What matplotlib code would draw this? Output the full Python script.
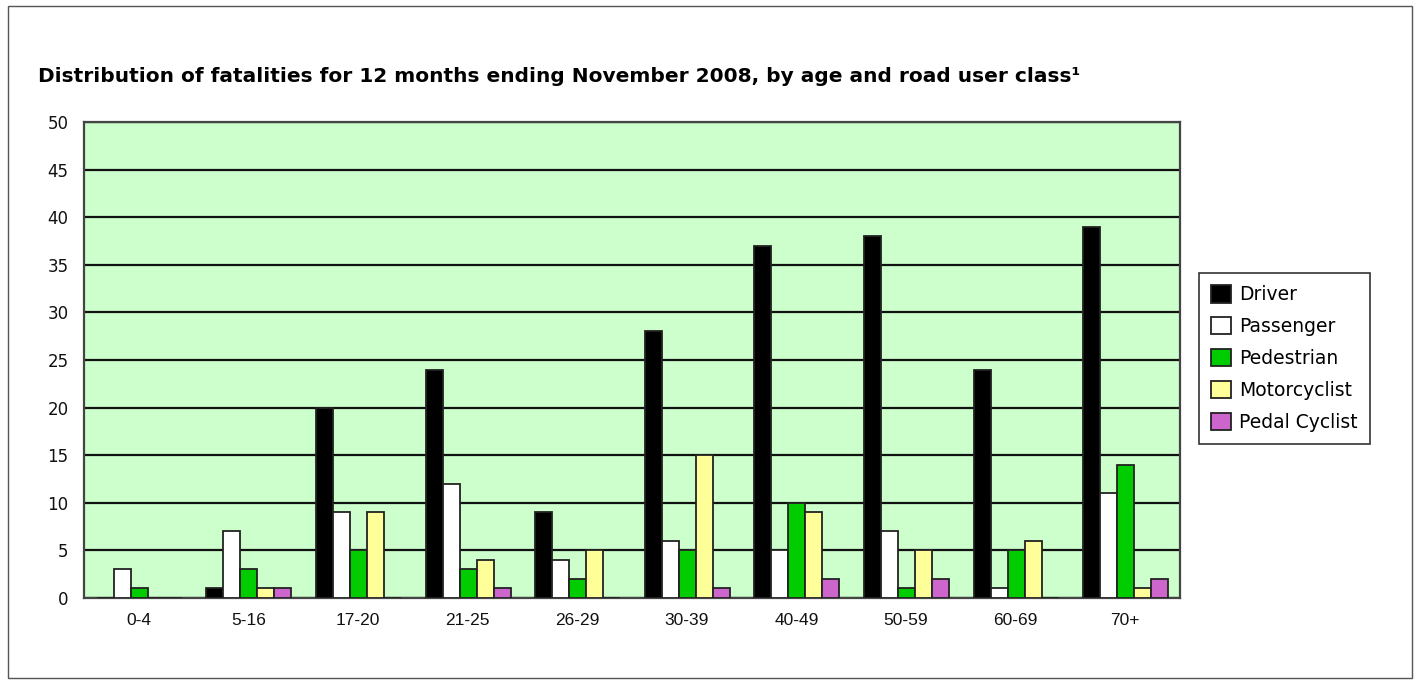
#!/usr/bin/env python3
"""
Fatalities by age group and road user class - grouped bar chart
"""

import numpy as np
import matplotlib
matplotlib.use("Agg")
import matplotlib.pyplot as plt
from matplotlib.patches import Rectangle

plt.rcParams['font.family'] = ['DejaVu Sans']

# Data
age_groups = ['0-4', '5-16', '17-20', '21-25', '26-29', '30-39', '40-49', '50-59', '60-69', '70+']
driver = [0, 1, 20, 24, 9, 28, 37, 38, 24, 39]
passenger = [3, 7, 9, 12, 4, 6, 5, 7, 1, 11]
pedestrian = [1, 3, 5, 3, 2, 5, 10, 1, 5, 14]
motorcyclist = [0, 1, 9, 4, 5, 15, 9, 5, 6, 1]
pedal_cyclist = [0, 1, 0, 1, 0, 1, 2, 2, 0, 2]

series_names = ['Driver', 'Passenger', 'Pedestrian', 'Motorcyclist', 'Pedal Cyclist']
series_colors = ['#000000', '#FFFFFF', '#00CC00', '#FFFF99', '#CC66CC']

title = 'Distribution of fatalities for 12 months ending November 2008, by age and road user class\u00b9'


def main():
    fig = plt.figure(figsize=(14.2, 6.84), dpi=100)
    fig.patch.set_facecolor('white')

    # outer frame of the figure
    fig.patches.append(Rectangle((8 / 1420, 6 / 684), 1404 / 1420, 672 / 684,
                                 transform=fig.transFigure, fill=False,
                                 edgecolor='#555555', linewidth=1.0))

    ax = fig.add_axes([84 / 1420, 1 - 598 / 684, 1096 / 1420, 476 / 684])
    ax.set_facecolor('#CCFFCC')

    x = np.arange(len(age_groups))
    width = 0.155
    all_series = [driver, passenger, pedestrian, motorcyclist, pedal_cyclist]
    for i, (vals, name, col) in enumerate(zip(all_series, series_names, series_colors)):
        offset = (i - 2) * width + 0.005
        ax.bar(x + offset, vals, width, color=col, edgecolor='#222222',
               linewidth=1.3, label=name, zorder=3)

    ax.set_xlim(-0.5, len(age_groups) - 0.5)
    ax.set_ylim(0, 50)
    ax.set_yticks(range(0, 51, 5))
    ax.set_xticks(x)
    ax.set_xticklabels(age_groups, family=['Liberation Sans', 'DejaVu Sans'], fontsize=12.5)
    ax.tick_params(axis='both', length=0, colors='#111111')
    ax.tick_params(axis='y', labelsize=12, pad=11)
    ax.tick_params(axis='x', pad=11)
    ax.yaxis.grid(True, color='#111111', linewidth=1.6, zorder=1)
    ax.set_axisbelow(True)
    for side in ['left', 'bottom', 'right', 'top']:
        ax.spines[side].set_color('#444444')
        ax.spines[side].set_linewidth(1.6)

    fig.text(38 / 1420, 1 - 77 / 684, title, fontsize=14.5, fontweight='bold',
             ha='left', va='center')

    leg = ax.legend(loc='upper left', bbox_to_anchor=(1199 / 1420, 1 - 273 / 684),
                    bbox_transform=fig.transFigure, fontsize=13.5, frameon=True,
                    fancybox=False, edgecolor='#000000', borderaxespad=0,
                    handlelength=1.05, handleheight=1.05, handletextpad=0.45,
                    labelspacing=0.68, borderpad=0.65)
    leg.get_frame().set_linewidth(1.2)

    fig.savefig('out.png', dpi=100)


if __name__ == "__main__":
    main()
